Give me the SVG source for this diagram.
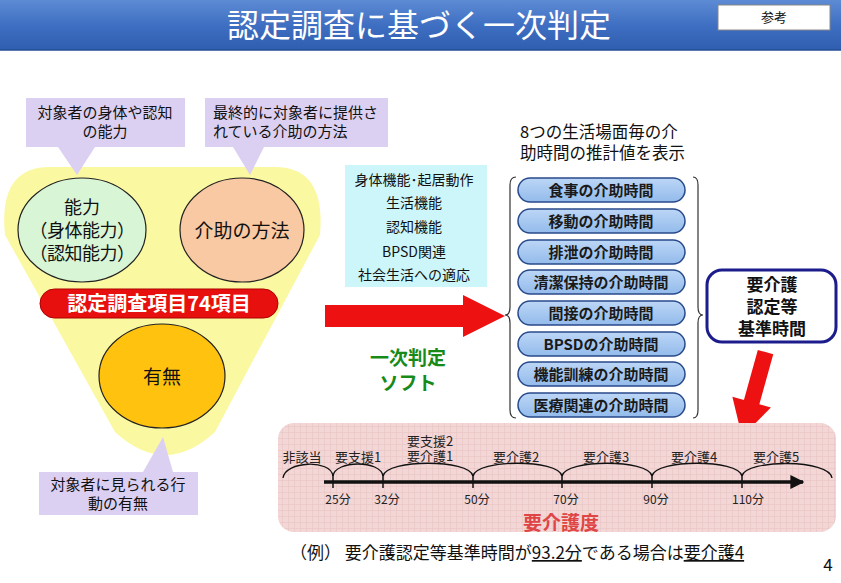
<svg xmlns="http://www.w3.org/2000/svg" width="841" height="583" viewBox="0 0 841 583">
<defs>
<linearGradient id="titleG" x1="0" y1="0" x2="0" y2="1">
<stop offset="0" stop-color="#5d8bd4"/><stop offset="0.5" stop-color="#3f6fc2"/><stop offset="1" stop-color="#2f5eb0"/>
</linearGradient>
<linearGradient id="pillG" x1="0" y1="0" x2="0" y2="1">
<stop offset="0" stop-color="#bcd6f6"/><stop offset="1" stop-color="#93bbeb"/>
</linearGradient>
<pattern id="grid" width="6" height="6" patternUnits="userSpaceOnUse">
<rect width="6" height="6" fill="#f3d6d6"/>
<path d="M0 0.5H6M0.5 0V6" stroke="#e9c4c4" stroke-width="0.6"/>
</pattern>
<marker id="axisArrow" viewBox="0 0 10 10" refX="9" refY="5" markerWidth="4" markerHeight="4" orient="auto">
<path d="M0 0L10 5L0 10Z" fill="#111"/>
</marker>
<style>
text{font-family:"Noto Sans CJK JP","Noto Sans",sans-serif;fill:#111}
.call{fill:#dcd0f2}
.ct{font-size:15px}
.cyan{font-size:14px;text-anchor:middle}
.pill rect{fill:url(#pillG);stroke:#284a8a;stroke-width:1.5}
.pill text{font-size:15px;text-anchor:middle;font-weight:bold;fill:#1a1a1a}
.tl{font-size:13px;text-anchor:middle;fill:#222}
.mn{font-size:12px;text-anchor:middle;fill:#222}
.arc{fill:none;stroke:#111;stroke-width:1.3}
.tick{stroke:#111;stroke-width:1.5}
.brace{fill:none;stroke:#333;stroke-width:1.2}
.ell{stroke:#222;stroke-width:1.2}
</style>
</defs>

<rect width="841" height="583" fill="#ffffff"/>

<g id="title">
<rect x="0" y="0" width="841" height="50" fill="url(#titleG)"/>
<line x1="0" y1="50" x2="841" y2="50" stroke="#234e96" stroke-width="1.5"/>
<text x="419" y="37" font-size="32" text-anchor="middle" style="fill:#fff">認定調査に基づく一次判定</text>
</g>
<g id="sanko">
<rect x="718" y="5" width="112" height="25" fill="#fff" stroke="#888" stroke-width="1"/>
<text x="774" y="22" font-size="13" text-anchor="middle">参考</text>
</g>

<g id="yellow">
<path d="M50,167 L275,167 Q326,167 320,235 L215,432 Q165,478 115,432 L5,235 Q-2,167 50,167 Z" fill="#fbf8a2"/>
</g>

<g id="callout-ability">
<path class="call" d="M26,98 H185 V147 H95 L77,175 L58,147 H26 Z"/>
<text class="ct" text-anchor="middle"><tspan x="105" y="118">対象者の身体や認知</tspan><tspan x="105" y="137">の能力</tspan></text>
</g>
<g id="callout-method">
<path class="call" d="M205,98 H388 V147 H264 L250,175 L233,147 H205 Z"/>
<text class="ct"><tspan x="213" y="118">最終的に対象者に提供さ</tspan><tspan x="213" y="137">れている介助の方法</tspan></text>
</g>
<g id="callout-behavior">
<path class="call" d="M39,472 H143 L163,437 L173,472 H198 V515 H39 Z"/>
<text class="ct" text-anchor="middle"><tspan x="118" y="490">対象者に見られる行</tspan><tspan x="118" y="509">動の有無</tspan></text>
</g>

<g id="ability">
<ellipse class="ell" cx="82" cy="230" rx="64" ry="52" fill="#d8f5d6"/>
<text font-size="18" text-anchor="middle"><tspan x="82" y="214">能力</tspan><tspan x="82" y="237" letter-spacing="-0.5">（身体能力）</tspan><tspan x="82" y="260" letter-spacing="-0.5">（認知能力）</tspan></text>
</g>
<g id="method">
<ellipse class="ell" cx="242" cy="230" rx="62" ry="52" fill="#f8c9a2"/>
<text x="242" y="238" font-size="19" text-anchor="middle">介助の方法</text>
</g>
<g id="items74">
<rect x="40" y="289" width="238" height="29" rx="14.5" fill="#e8100f" stroke="#a00" stroke-width="1"/>
<text x="159" y="311" font-size="20" font-weight="bold" text-anchor="middle" style="fill:#fff">認定調査項目74項目</text>
</g>
<g id="presence">
<ellipse class="ell" cx="162" cy="376" rx="63" ry="52" fill="#ffc20e"/>
<text x="162" y="384" font-size="19" text-anchor="middle">有無</text>
</g>

<g id="categories">
<rect x="345" y="165" width="142" height="122" fill="#cdf6fb"/>
<text class="cyan"><tspan x="414" y="185">身体機能･起居動作</tspan><tspan x="414" y="208">生活機能</tspan><tspan x="414" y="232">認知機能</tspan><tspan x="414" y="257">BPSD関連</tspan><tspan x="414" y="280">社会生活への適応</tspan></text>
</g>

<g id="connectors">
<polygon points="325,305 463,305 463,295 505,316 463,337 463,327 325,327" fill="#ee1111"/>
<polygon points="-2,-8 50,-8 50,-20 86,0 50,20 50,8 -2,8" fill="#ee1111" transform="translate(765,354) rotate(105.5)"/>
</g>

<g id="soft">
<text font-size="19" font-weight="bold" text-anchor="middle" style="fill:#178a17"><tspan x="408" y="365">一次判定</tspan><tspan x="408" y="390">ソフト</tspan></text>
</g>

<g id="heading8">
<text font-size="16.5"><tspan x="520" y="138">8つの生活場面毎の介</tspan><tspan x="520" y="159">助時間の推計値を表示</tspan></text>
</g>

<g id="braces">
<path class="brace" d="M516,177 Q510,177 510,185 L510,307 Q510,315 505,315 Q510,315 510,323 L510,410 Q510,418 516,418"/>
<path class="brace" d="M693,177 Q698,177 698,185 L698,307 Q698,315 703,315 Q698,315 698,323 L698,410 Q698,418 693,418"/>
</g>

<g id="pills" class="pill">
<g id="p1"><rect x="518" y="178" width="167" height="24" rx="12"/><text x="601" y="196">食事の介助時間</text></g>
<g id="p2"><rect x="518" y="209" width="167" height="24" rx="12"/><text x="601" y="227">移動の介助時間</text></g>
<g id="p3"><rect x="518" y="240" width="167" height="24" rx="12"/><text x="601" y="258">排泄の介助時間</text></g>
<g id="p4"><rect x="518" y="270" width="167" height="24" rx="12"/><text x="601" y="288">清潔保持の介助時間</text></g>
<g id="p5"><rect x="518" y="301" width="167" height="24" rx="12"/><text x="601" y="319">間接の介助時間</text></g>
<g id="p6"><rect x="518" y="332" width="167" height="24" rx="12"/><text x="601" y="350">BPSDの介助時間</text></g>
<g id="p7"><rect x="518" y="362" width="167" height="24" rx="12"/><text x="601" y="380">機能訓練の介助時間</text></g>
<g id="p8"><rect x="518" y="393" width="167" height="24" rx="12"/><text x="601" y="411">医療関連の介助時間</text></g>
</g>

<g id="standard-time">
<rect x="707" y="270" width="129" height="72" rx="15" fill="#fff" stroke="#1c1c8c" stroke-width="3"/>
<text font-size="17" font-weight="bold" text-anchor="middle"><tspan x="772" y="291">要介護</tspan><tspan x="772" y="313">認定等</tspan><tspan x="772" y="335">基準時間</tspan></text>
</g>

<g id="care-level">
<rect x="278" y="423" width="558" height="109" rx="16" fill="url(#grid)"/>
<line x1="324" y1="482" x2="803" y2="482" stroke="#111" stroke-width="3.5" marker-end="url(#axisArrow)"/>
<path class="arc" d="M283,478 C285,461 331,459 333,476"/>
<path class="arc" d="M333,476 C335,460 381,460 383,476"/>
<path class="arc" d="M383,476 C387,459 469,459 473,476"/>
<path class="arc" d="M473,476 C477,459 558,459 562,476"/>
<path class="arc" d="M562,476 C566,459 648,459 652,476"/>
<path class="arc" d="M652,476 C656,459 738,459 742,476"/>
<path class="arc" d="M742,476 C746,459 830,459 832,478"/>
<line class="tick" x1="333" y1="474" x2="333" y2="488"/>
<line class="tick" x1="383" y1="474" x2="383" y2="488"/>
<line class="tick" x1="473" y1="474" x2="473" y2="488"/>
<line class="tick" x1="562" y1="474" x2="562" y2="488"/>
<line class="tick" x1="652" y1="474" x2="652" y2="488"/>
<line class="tick" x1="742" y1="474" x2="742" y2="488"/>
<text class="tl" x="302" y="462">非該当</text>
<text class="tl" x="358" y="462">要支援1</text>
<text class="tl"><tspan x="430" y="446">要支援2</tspan><tspan x="430" y="461">要介護1</tspan></text>
<text class="tl" x="516" y="462">要介護2</text>
<text class="tl" x="606" y="462">要介護3</text>
<text class="tl" x="694" y="462">要介護4</text>
<text class="tl" x="776" y="462">要介護5</text>
<text class="mn" x="338" y="504">25分</text>
<text class="mn" x="387" y="504">32分</text>
<text class="mn" x="477" y="504">50分</text>
<text class="mn" x="566" y="504">70分</text>
<text class="mn" x="656" y="504">90分</text>
<text class="mn" x="748" y="504">110分</text>
<text x="561" y="530" font-size="19" font-weight="bold" text-anchor="middle" style="fill:#e04545">要介護度</text>
</g>

<g id="example">
<text x="290" y="559" font-size="17">（例） 要介護認定等基準時間が<tspan text-decoration="underline">93.2分</tspan>である場合は<tspan text-decoration="underline">要介護4</tspan></text>
</g>
<text x="828" y="571" font-size="17" text-anchor="middle">4</text>
</svg>
